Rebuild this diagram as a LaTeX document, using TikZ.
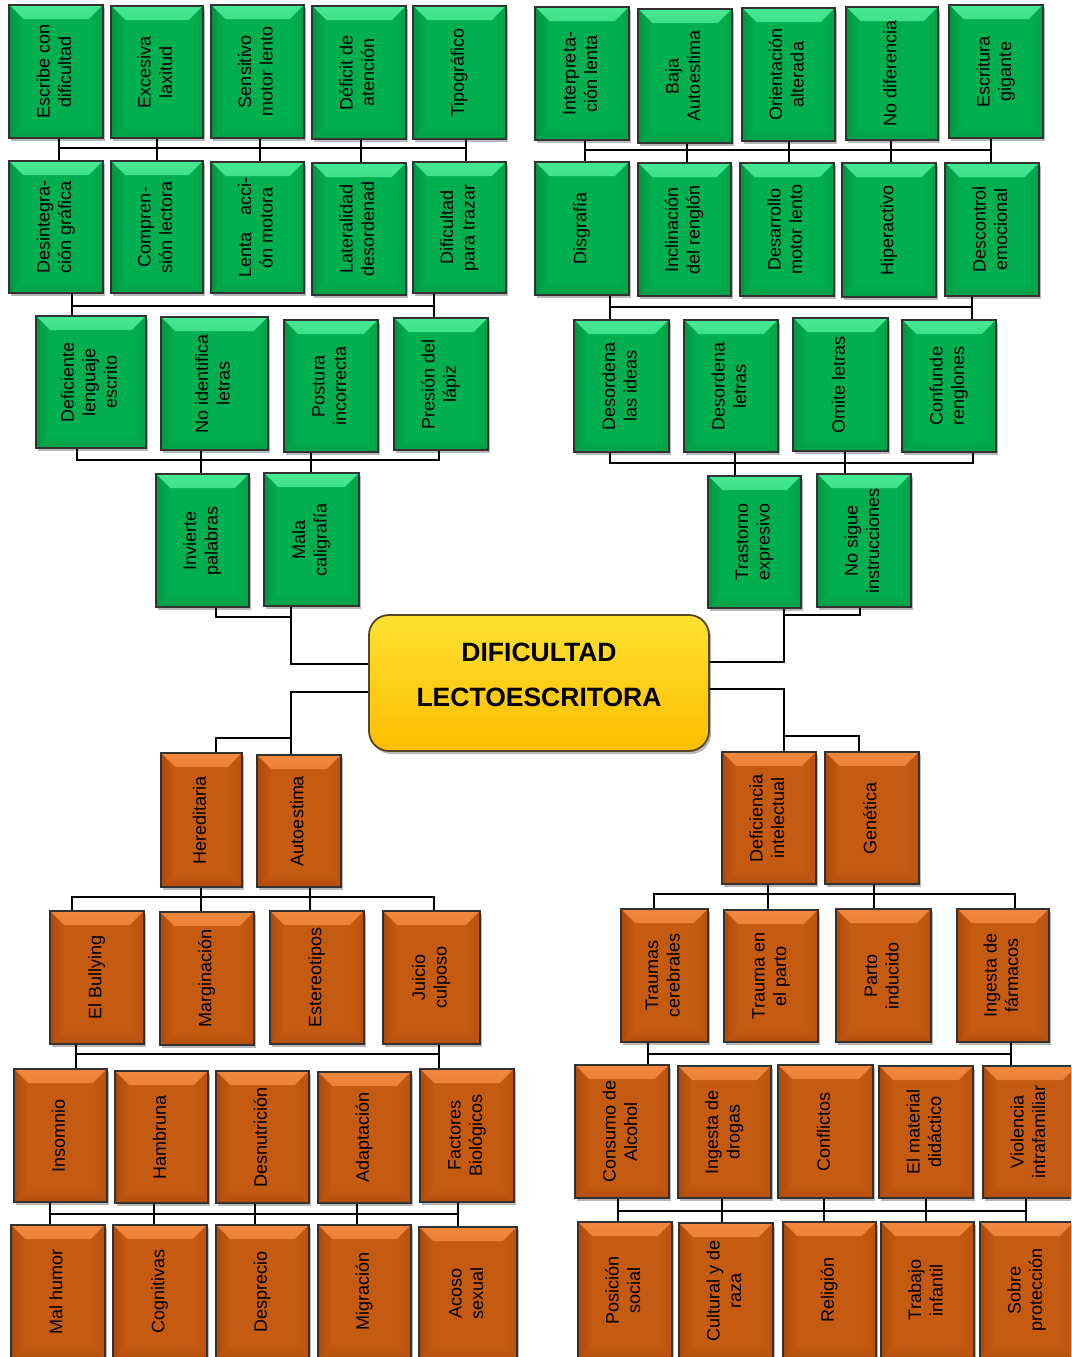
\documentclass[tikz,border=0pt]{standalone}
\usepackage{fontspec}
\setmainfont{Liberation Sans}
\usepackage{graphicx}
\usetikzlibrary{shadows}

\definecolor{gface}{RGB}{0,176,80}
\definecolor{gtop}{RGB}{70,232,145}
\definecolor{gleft}{RGB}{0,148,64}
\definecolor{gright}{RGB}{0,162,72}
\definecolor{gbot}{RGB}{0,158,70}
\definecolor{oface}{RGB}{197,90,17}
\definecolor{otop}{RGB}{240,135,60}
\definecolor{oleft}{RGB}{172,74,10}
\definecolor{oright}{RGB}{186,83,14}
\definecolor{obot}{RGB}{180,78,12}
\definecolor{bord}{RGB}{50,50,50}
\definecolor{ctrbord}{RGB}{85,70,35}
\definecolor{ctrtop}{RGB}{255,225,50}
\definecolor{ctrbot}{RGB}{252,190,0}

\newcommand\bw{14pt}
\newcommand\bevel[5]{%
\shade[top color=#1,bottom color=#5] (path picture bounding box.north west) -- (path picture bounding box.north east) -- ([xshift=-\bw,yshift=-\bw]path picture bounding box.north east) -- ([xshift=\bw,yshift=-\bw]path picture bounding box.north west) -- cycle;
\shade[left color=#2,right color=#5] (path picture bounding box.north west) -- ([xshift=\bw,yshift=-\bw]path picture bounding box.north west) -- ([xshift=\bw,yshift=\bw]path picture bounding box.south west) -- (path picture bounding box.south west) -- cycle;
\shade[right color=#3,left color=#5] (path picture bounding box.north east) -- ([xshift=-\bw,yshift=-\bw]path picture bounding box.north east) -- ([xshift=-\bw,yshift=\bw]path picture bounding box.south east) -- (path picture bounding box.south east) -- cycle;
\shade[bottom color=#4,top color=#5] (path picture bounding box.south west) -- ([xshift=\bw,yshift=\bw]path picture bounding box.south west) -- ([xshift=-\bw,yshift=\bw]path picture bounding box.south east) -- (path picture bounding box.south east) -- cycle;
}

\newcommand\vt[1]{\rotatebox{90}{\fontsize{18}{21.5}\selectfont\begin{tabular}{@{}c@{}}#1\end{tabular}}}
\newcommand\mkbox[7]{\node[#1, minimum width={#5pt-#3pt}, minimum height={#6pt-#4pt}] (#2) at ({(#3+#5)/2},{(#4+#6)/2}) {\vt{#7}};}
\newcommand\vlink[3]{\path (#3,0) coordinate (vx); \draw[conn] (#1.south -| vx) -- (#2.north -| vx);}

\tikzset{
 conn/.style={line width=2.5pt, black},
 basebox/.style={draw=bord, line width=1.8pt, inner sep=0pt,
   drop shadow={shadow xshift=2pt, shadow yshift=-3pt, opacity=0.28, fill=black}},
 gbox/.style={basebox, fill=gface, path picture={\bevel{gtop}{gleft}{gright}{gbot}{gface}}},
 obox/.style={basebox, fill=oface, path picture={\bevel{otop}{oleft}{oright}{obot}{oface}}},
 ctrbox/.style={draw=ctrbord, line width=1.8pt, rounded corners=20pt, inner sep=0pt,
   top color=ctrtop, bottom color=ctrbot,
   drop shadow={shadow xshift=2pt, shadow yshift=-3pt, opacity=0.28, fill=black}},
}

\begin{document}
\begin{tikzpicture}[x=1pt,y=-1pt]
\useasboundingbox (0,0) rectangle (1071,1357);
\fill[white] (0,0) rectangle (1071,1357);
\clip (0,0) rectangle (1071,1357);

% ---------- top left (green) ----------
\mkbox{gbox}{b1}{9}{5}{103}{138}{Escribe con\\dificultad}
\mkbox{gbox}{b2}{111}{6}{203}{138}{Excesiva\\laxitud}
\mkbox{gbox}{b3}{211}{5}{304}{138}{Sensitivo\\motor lento}
\mkbox{gbox}{b4}{312}{6}{406}{139}{Déficit de\\atención}
\mkbox{gbox}{b5}{413}{6}{506}{139}{Tipográfico}
\mkbox{gbox}{b6}{9}{161}{103}{293}{Desintegra-\\ción gráfica}
\mkbox{gbox}{b7}{111}{161}{203}{293}{Compren-\\sión lectora}
\mkbox{gbox}{b8}{211}{162}{304}{293}{\makebox[100pt][s]{Lenta\hfill acci-}\\ón motora\hfill}
\mkbox{gbox}{b9}{312}{163}{406}{295}{Lateralidad\\desordenad}
\mkbox{gbox}{b10}{413}{162}{506}{293}{Dificultad\\para trazar}
\mkbox{gbox}{b11}{36}{316}{146}{448}{Deficiente\\lenguaje\\escrito}
\mkbox{gbox}{b12}{161}{317}{268}{450}{No identifica\\letras}
\mkbox{gbox}{b13}{284}{320}{378}{452}{Postura\\incorrecta}
\mkbox{gbox}{b14}{394}{318}{488}{450}{Presión del\\lápiz}
\mkbox{gbox}{b15}{156}{474}{249}{607}{Invierte\\palabras}
\mkbox{gbox}{b16}{264}{473}{359}{606}{Mala\\caligrafía}

% ---------- top right (green) ----------
\mkbox{gbox}{r1}{535}{7}{629}{140}{Interpreta-\\ción lenta}
\mkbox{gbox}{r2}{638}{9}{732}{143}{Baja\\Autoestima}
\mkbox{gbox}{r3}{742}{8}{835}{141}{Orientación\\alterada}
\mkbox{gbox}{r4}{846}{7}{938}{140}{No diferencia}
\mkbox{gbox}{r5}{949}{5}{1043}{138}{Escritura\\gigante}
\mkbox{gbox}{r6}{535}{162}{629}{295}{Disgrafía}
\mkbox{gbox}{r7}{638}{163}{731}{296}{Inclinación\\del renglón}
\mkbox{gbox}{r8}{740}{163}{834}{296}{Desarrollo\\motor lento}
\mkbox{gbox}{r9}{842}{163}{936}{297}{Hiperactivo}
\mkbox{gbox}{r10}{945}{163}{1039}{296}{Descontrol\\emocional}
\mkbox{gbox}{r11}{574}{320}{669}{452}{Desordena\\las ideas}
\mkbox{gbox}{r12}{684}{320}{778}{452}{Desordena\\letras}
\mkbox{gbox}{r13}{793}{318}{888}{451}{Omite letras}
\mkbox{gbox}{r14}{902}{320}{996}{452}{Confunde\\renglones}
\mkbox{gbox}{r15}{708}{476}{801}{608}{Trastorno\\expresivo}
\mkbox{gbox}{r16}{817}{474}{911}{607}{No sigue\\instrucciones}

% ---------- centre ----------
\node[ctrbox, minimum width=340pt, minimum height=136pt] (ctr) at (539,683) {};
\node[font=\fontsize{26.5}{45}\selectfont\bfseries, align=center, inner sep=0pt] (ctrt) at (539,675) {DIFICULTAD\\LECTOESCRITORA};

% ---------- bottom left (orange) ----------
\mkbox{obox}{o1}{161}{753}{242}{887}{Hereditaria}
\mkbox{obox}{o2}{257}{755}{341}{887}{Autoestima}
\mkbox{obox}{o3}{50}{911}{144}{1044}{El Bullying}
\mkbox{obox}{o4}{160}{912}{254}{1045}{Marginación}
\mkbox{obox}{o5}{270}{911}{364}{1044}{Estereotipos}
\mkbox{obox}{o6}{383}{911}{480}{1044}{Juicio\\culposo}
\mkbox{obox}{o7}{14}{1069}{107}{1202}{Insomnio}
\mkbox{obox}{o8}{115}{1071}{208}{1203}{Hambruna}
\mkbox{obox}{o9}{216}{1071}{309}{1203}{Desnutrición}
\mkbox{obox}{o10}{318}{1072}{411}{1203}{Adaptación}
\mkbox{obox}{o11}{420}{1069}{514}{1202}{Factores\\Biológicos}
\mkbox{obox}{o12}{11}{1225}{105}{1358}{Mal humor}
\mkbox{obox}{o13}{113}{1225}{207}{1358}{Cognitivas}
\mkbox{obox}{o14}{216}{1225}{309}{1358}{Desprecio}
\mkbox{obox}{o15}{318}{1225}{411}{1358}{Migración}
\mkbox{obox}{o16}{419}{1227}{517}{1360}{Acoso\\sexual}

% ---------- bottom right (orange) ----------
\mkbox{obox}{p1}{722}{752}{816}{884}{Deficiencia\\intelectual}
\mkbox{obox}{p2}{825}{752}{919}{884}{Genética}
\mkbox{obox}{p3}{621}{909}{708}{1042}{Traumas\\cerebrales}
\mkbox{obox}{p4}{724}{910}{818}{1042}{Trauma en\\el parto}
\mkbox{obox}{p5}{836}{909}{931}{1042}{Parto\\inducido}
\mkbox{obox}{p6}{957}{909}{1049}{1042}{Ingesta de\\fármacos}
\mkbox{obox}{p7}{575}{1065}{669}{1198}{Consumo de\\Alcohol}
\mkbox{obox}{p8}{678}{1066}{771}{1198}{Ingesta de\\drogas}
\mkbox{obox}{p9}{778}{1065}{873}{1198}{Conflictos}
\mkbox{obox}{p10}{879}{1066}{973}{1198}{El material\\didáctico}
\mkbox{obox}{p11}{983}{1066}{1077}{1198}{Violencia\\intrafamiliar}
\mkbox{obox}{p12}{578}{1222}{672}{1358}{Posición\\social}
\mkbox{obox}{p13}{679}{1223}{773}{1358}{Cultural y de\\raza}
\mkbox{obox}{p14}{783}{1222}{876}{1358}{Religión}
\mkbox{obox}{p15}{881}{1222}{974}{1358}{Trabajo\\infantil}
\mkbox{obox}{p16}{980}{1222}{1074}{1358}{Sobre\\protección}

% ---------- connectors: top left ----------
\vlink{b1}{b6}{59} \vlink{b2}{b7}{157} \vlink{b3}{b8}{260} \vlink{b4}{b9}{361} \vlink{b5}{b10}{466}
\coordinate (tl1L) at (59,148); \coordinate (tl1R) at (466,148);
\draw[conn] (tl1L) -- (tl1R);
\coordinate (tl2L) at (72,306); \coordinate (tl2R) at (434,306);
\draw[conn] (b6.south -| tl2L) -- (b11.north -| tl2L);
\draw[conn] (b10.south -| tl2R) -- (b14.north -| tl2R);
\draw[conn] (tl2L) -- (tl2R);
\coordinate (tl3L) at (77,460); \coordinate (tl3R) at (439,460);
\draw[conn] (b11.south -| tl3L) -- (tl3L) -- (tl3R) -- (b14.south -| tl3R);
\vlink{b12}{b15}{201} \vlink{b13}{b16}{311}

% ---------- connectors: centre left ----------
\coordinate (cla) at (216,617); \coordinate (clb) at (291,664);
\draw[conn] (b15.south -| cla) -- (cla) -- (cla -| clb);
\draw[conn] (b16.south -| clb) -- (clb) -- (ctr.west |- clb);
\coordinate (cld) at (291,692); \coordinate (cle) at (216,738);
\draw[conn] (ctr.west |- cld) -- (cld) -- (o2.north -| cld);
\draw[conn] (o1.north -| cle) -- (cle) -- (cle -| cld);

% ---------- connectors: bottom left ----------
\vlink{o1}{o4}{201} \vlink{o2}{o5}{310}
\coordinate (bl1L) at (72,897); \coordinate (bl1R) at (434,897);
\draw[conn] (o3.north -| bl1L) -- (bl1L) -- (bl1R) -- (o6.north -| bl1R);
\vlink{o3}{o7}{76} \vlink{o6}{o11}{439}
\coordinate (bl2L) at (76,1054); \coordinate (bl2R) at (439,1054);
\draw[conn] (bl2L) -- (bl2R);
\vlink{o7}{o12}{50} \vlink{o8}{o13}{154} \vlink{o9}{o14}{255} \vlink{o10}{o15}{357} \vlink{o11}{o16}{458}
\coordinate (bl3L) at (50,1214); \coordinate (bl3R) at (458,1214);
\draw[conn] (bl3L) -- (bl3R);

% ---------- connectors: top right ----------
\vlink{r1}{r6}{585} \vlink{r2}{r7}{687} \vlink{r3}{r8}{789} \vlink{r4}{r9}{891} \vlink{r5}{r10}{991}
\coordinate (tr1L) at (585,150); \coordinate (tr1R) at (991,150);
\draw[conn] (tr1L) -- (tr1R);
\coordinate (tr2L) at (610,307); \coordinate (tr2R) at (972,307);
\draw[conn] (r6.south -| tr2L) -- (r11.north -| tr2L);
\draw[conn] (r10.south -| tr2R) -- (r14.north -| tr2R);
\draw[conn] (tr2L) -- (tr2R);
\coordinate (tr3L) at (610,463); \coordinate (tr3R) at (973,463);
\draw[conn] (r11.south -| tr3L) -- (tr3L) -- (tr3R) -- (r14.south -| tr3R);
\vlink{r12}{r15}{735} \vlink{r13}{r16}{845}

% ---------- connectors: centre right ----------
\coordinate (cra) at (784,662); \coordinate (crb) at (860,615);
\draw[conn] (ctr.east |- cra) -- (cra) -- (r15.south -| cra);
\draw[conn] (cra |- crb) -- (crb) -- (r16.south -| crb);
\coordinate (crc) at (784,689); \coordinate (crd) at (859,736);
\draw[conn] (ctr.east |- crc) -- (crc) -- (p1.north -| crc);
\draw[conn] (crc |- crd) -- (crd) -- (p2.north -| crd);

% ---------- connectors: bottom right ----------
\vlink{p1}{p4}{768} \vlink{p2}{p5}{874}
\coordinate (br1L) at (654,894); \coordinate (br1R) at (1015,894);
\draw[conn] (p3.north -| br1L) -- (br1L) -- (br1R) -- (p6.north -| br1R);
\vlink{p3}{p7}{648} \vlink{p6}{p11}{1011}
\coordinate (br2L) at (648,1054); \coordinate (br2R) at (1011,1054);
\draw[conn] (br2L) -- (br2R);
\vlink{p7}{p12}{618} \vlink{p8}{p13}{722} \vlink{p9}{p14}{824} \vlink{p10}{p15}{926} \vlink{p11}{p16}{1026}
\coordinate (br3L) at (618,1211); \coordinate (br3R) at (1026,1211);
\draw[conn] (br3L) -- (br3R);
\end{tikzpicture}
\end{document}
